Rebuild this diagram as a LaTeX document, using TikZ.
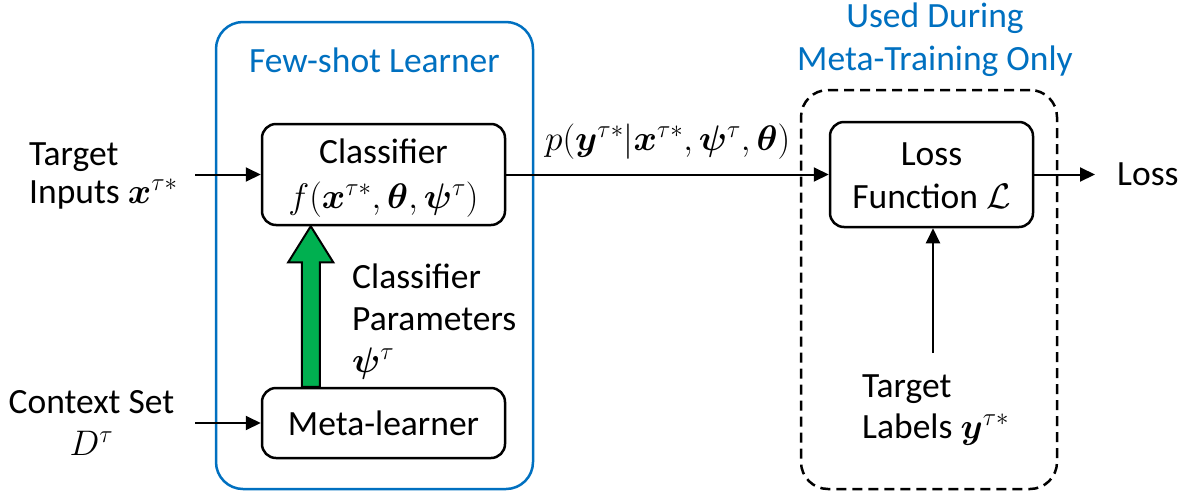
\RequirePackage{fix-cm}
\documentclass[tikz,border=0pt]{standalone}
\usepackage{fontspec}
\setmainfont{Carlito}
\usepackage{amsmath,bm}
\usetikzlibrary{arrows.meta,calc}
\definecolor{msblue}{HTML}{0070C0}
\definecolor{msgreen}{HTML}{00B050}
\begin{document}
\begin{tikzpicture}[x=1pt,y=-1pt,
  every node/.style={font=\fontsize{35.5}{43}\selectfont},
  lbl/.style={inner sep=0pt},
  blk/.style={draw, line width=2.5pt, rounded corners=14pt, align=center, inner sep=0pt},
  conn/.style={line width=2pt, -{Triangle[length=15pt,width=14pt]}},
  grp/.style={line width=2.5pt, rounded corners=27pt},
  gar/.style={draw=black, fill=msgreen, line width=2pt, line join=miter}]
\useasboundingbox (0,0) rectangle (1186,496);

% group frames
\node (fsl) [grp, draw=msblue, minimum width=317pt, minimum height=467pt] at (374.5,255.5) {};
\node (dash) [grp, draw=black, dash pattern=on 10pt off 6pt, minimum width=256pt, minimum height=399pt] at (929,289.5) {};

% blocks
\node (cls) [blk, minimum width=243pt, minimum height=101pt] at (383.5,174.5) {};
\node (clsa) [lbl, anchor=base] at (383.5,163) {Classifier};
\node (clsb) [lbl, anchor=base] at (383.5,208) {$f(\bm{x}^{\tau*},\bm{\theta},\bm{\psi}^{\tau})$};
\node (meta) [blk, minimum width=243pt, minimum height=70pt] at (383.5,423) {Meta-learner};
\node (loss) [blk, minimum width=203pt, minimum height=105pt] at (931.5,174.5) {};
\node (lossa) [lbl, anchor=base] at (931.5,165) {Loss};
\node (lossb) [lbl, anchor=base] at (931.5,208) {Function $\mathcal{L}$};

% titles
\node (t1) [lbl, anchor=base, text=msblue] at (374.5,72) {Few-shot Learner};
\node (t2) [lbl, anchor=base, text=msblue] at (935,27) {Used During};
\node (t3) [lbl, anchor=base, text=msblue] at (935,70) {Meta-Training Only};

% outside labels
\node (ti1) [lbl, anchor=base west] at (29,165) {Target};
\node (ti2) [lbl, anchor=base west] at (29,203) {Inputs $\bm{x}^{\tau*}$};
\node (cs1) [lbl, anchor=base] at (91.5,413) {Context Set};
\node (cs2) [lbl, anchor=base] at (91.5,455) {$D^{\tau}$};
\node (cp1) [lbl, anchor=base west] at (352,288) {Classifier};
\node (cp2) [lbl, anchor=base west] at (352,330) {Parameters};
\node (cp3) [lbl, anchor=base west] at (352,372) {$\bm{\psi}^{\tau}$};
\node (pl) [lbl, anchor=base west] at (545,150) {$p(\bm{y}^{\tau*}|\bm{x}^{\tau*},\bm{\psi}^{\tau},\bm{\theta})$};
\node (tl1) [lbl, anchor=base west] at (862,397) {Target};
\node (tl2) [lbl, anchor=base west] at (862,438) {Labels $\bm{y}^{\tau*}$};
\node (lo) [lbl, anchor=base west] at (1117,185) {Loss};

% connectors
\coordinate (tin) at (195,174.5);
\coordinate (cin) at (195,423);
\coordinate (lout) at (1095,174.5);
\coordinate (lab) at (933,353);
\draw[conn] (tin) -- (cls.west);
\draw[conn] (cin) -- (meta.west);
\draw[conn] (cls.east) -- (loss.west);
\draw[conn] (loss.east) -- (lout);
\draw[conn] (lab) -- (lab |- loss.south);

% green parameter arrow
\path (meta.north west) ++(50,0) coordinate (gb);
\path (gb |- cls.south) coordinate (gt);
\draw[gar] ($(gb)+(-9,0)$) -- ($(gt)+(-9,36)$) -- ($(gt)+(-22.5,36)$) -- (gt)
  -- ($(gt)+(22.5,36)$) -- ($(gt)+(9,36)$) -- ($(gb)+(9,0)$) -- cycle;
\end{tikzpicture}
\end{document}
